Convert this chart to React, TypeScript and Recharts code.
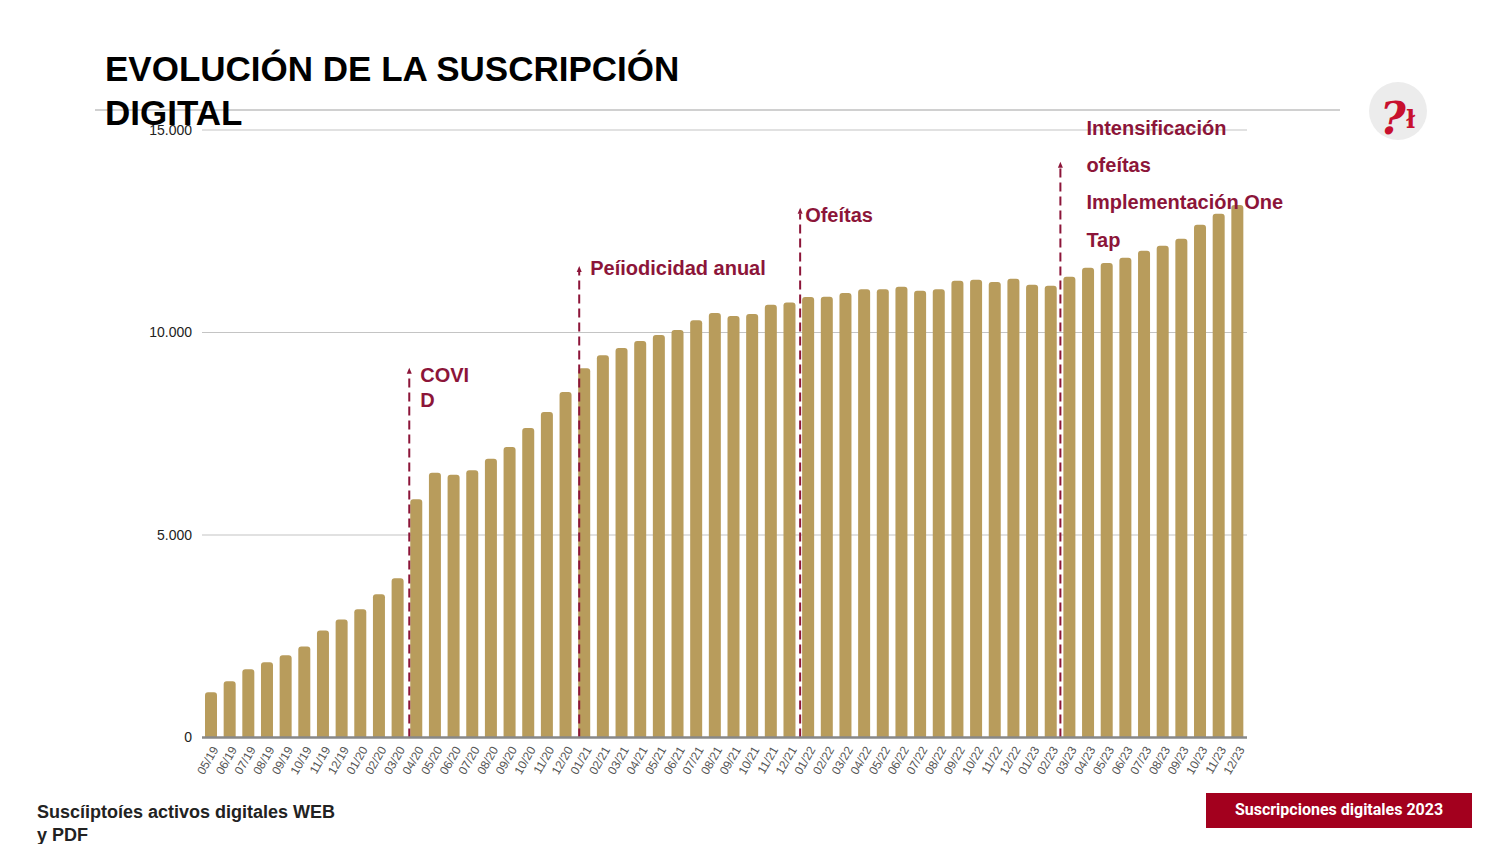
import { BarChart, Bar, XAxis, YAxis, CartesianGrid, ReferenceLine } from 'recharts';

const months = [
  '05/19', '06/19', '07/19', '08/19', '09/19', '10/19', '11/19', '12/19',
  '01/20', '02/20', '03/20', '04/20', '05/20', '06/20', '07/20', '08/20', '09/20', '10/20', '11/20', '12/20',
  '01/21', '02/21', '03/21', '04/21', '05/21', '06/21', '07/21', '08/21', '09/21', '10/21', '11/21', '12/21',
  '01/22', '02/22', '03/22', '04/22', '05/22', '06/22', '07/22', '08/22', '09/22', '10/22', '11/22', '12/22',
  '01/23', '02/23', '03/23', '04/23', '05/23', '06/23', '07/23', '08/23', '09/23', '10/23', '11/23', '12/23',
];

const subscribers = [
  1115, 1390, 1685, 1855, 2030, 2250, 2645, 2915,
  3165, 3535, 3930, 5885, 6535, 6485, 6600, 6880, 7175, 7645, 8035, 8530,
  9120, 9440, 9615, 9790, 9940, 10060, 10305, 10480, 10410, 10455, 10685, 10740,
  10875, 10880, 10975, 11070, 11070, 11130, 11030, 11070, 11275, 11300, 11250, 11325,
  11180, 11155, 11375, 11600, 11715, 11845, 12020, 12140, 12315, 12660, 12930, 13150,
];

const yTicks = [0, 5000, 10000, 15000];

const markerMonths = ['04/20', '01/21', '01/22', '03/23'];
const markerTops = [9055, 11565, 13005, 14145];
const markerLabels = [
  ['COVI', 'D'],
  ['Peíiodicidad anual'],
  ['Ofeítas'],
  ['Intensificación', 'ofeítas', 'Implementación One', 'Tap'],
];

const data = months.map((month, i) => ({ month, value: subscribers[i] }));

// label offsets relative to the arrow tip
const markerText = [
  { sx: 2, dx: 11, dy: 11, lh: 25 },
  { sx: 4, dx: 11, dy: 6, lh: 25 },
  { sx: 1, dx: 5, dy: 11, lh: 25 },
  { sx: 0, dx: 26, dy: -30, lh: 37.4 },
];

const FONT = '"Liberation Sans", Arial, sans-serif';
const RED = '#8c1539';
const GOLD = '#b89c5c';

const fmt = (v: number) => v.toLocaleString('de-DE');

const MonthTick = ({ x, y, payload }: any) => {
  const tx = x + 4;
  const ty = y + 2;
  return (
    <text
      x={tx}
      y={ty}
      transform={`rotate(-60 ${tx} ${ty})`}
      textAnchor="end"
      dominantBaseline="central"
      fontSize={12}
      fill="#555"
      fontFamily={FONT}
    >
      {payload.value}
    </text>
  );
};

function Marker({ x1, y1, y2, idx }: any) {
  const t = markerText[idx];
  const x = x1 + t.sx;
  const top = Math.min(y1, y2);
  const bottom = Math.max(y1, y2);
  return (
    <g>
      <line x1={x} y1={bottom} x2={x} y2={top + 3} stroke={RED} strokeWidth={2} strokeDasharray="9 5" />
      <polygon points={`${x},${top - 3} ${x - 2.5},${top + 3} ${x + 2.5},${top + 3}`} fill={RED} />
      {markerLabels[idx].map((line, j) => (
        <text
          key={j}
          x={x + t.dx}
          y={top + t.dy + j * t.lh}
          fontSize={20}
          fontWeight="bold"
          fill={RED}
          fontFamily={FONT}
        >
          {line}
        </text>
      ))}
    </g>
  );
}

export default function App() {
  return (
    <div
      style={{
        position: 'absolute',
        left: 0,
        top: 0,
        width: 1500,
        height: 844,
        background: '#fff',
        overflow: 'hidden',
        fontFamily: FONT,
      }}
    >
      <div style={{ position: 'absolute', left: 95, top: 109, width: 1245, height: 2, background: '#d0d0d0' }} />

      <div style={{ position: 'absolute', left: 0, top: 0 }}>
        <BarChart
          width={1500}
          height={844}
          data={data}
          margin={{ top: 130, right: 253, bottom: 46.5, left: 140 }}
        >
          <CartesianGrid horizontal vertical={false} stroke="#c4c4c4" strokeWidth={1.2} />
          <XAxis
            dataKey="month"
            interval={0}
            height={60}
            axisLine={{ stroke: '#888', strokeWidth: 2.5 }}
            tickLine={false}
            tick={<MonthTick />}
          />
          <YAxis
            width={62}
            domain={[0, 15000]}
            ticks={yTicks}
            axisLine={false}
            tickLine={false}
            tickMargin={4}
            tickFormatter={fmt}
            tick={{ fontSize: 14, fill: '#222', fontFamily: FONT }}
          />
          <Bar dataKey="value" fill={GOLD} barSize={12} radius={[3, 3, 0, 0]} isAnimationActive={false} />
          {markerMonths.map((m, i) => (
            <ReferenceLine
              key={m}
              segment={[
                { x: m, y: 0 },
                { x: m, y: markerTops[i] },
              ]}
              position="start"
              shape={(p: any) => <Marker {...p} idx={i} />}
            />
          ))}
        </BarChart>
      </div>

      <div
        style={{
          position: 'absolute',
          left: 105,
          top: 47,
          width: 620,
          fontSize: 35,
          lineHeight: '44px',
          fontWeight: 'bold',
          color: '#000',
        }}
      >
        EVOLUCIÓN DE LA SUSCRIPCIÓN DIGITAL
      </div>

      <svg style={{ position: 'absolute', left: 1360, top: 72 }} width={80} height={80}>
        <circle cx={38} cy={39} r={29} fill="#ececec" />
        <text x={20} y={62} fontSize={44} fontWeight="bold" fontStyle="italic" fill="#c8102e" fontFamily='"DejaVu Serif", serif'>
          ?
        </text>
        <text x={46} y={56} fontSize={24} fontWeight="bold" fill="#c8102e" fontFamily='"DejaVu Serif", serif'>
          ł
        </text>
      </svg>

      <div
        style={{
          position: 'absolute',
          left: 37,
          top: 801,
          width: 360,
          fontSize: 18,
          lineHeight: '23px',
          fontWeight: 'bold',
          color: '#222',
        }}
      >
        Suscíiptoíes activos digitales WEB
        <br />y PDF
      </div>

      <div
        style={{
          position: 'absolute',
          left: 1206,
          top: 793,
          width: 266,
          height: 35,
          background: '#a3001e',
          color: '#fff',
          fontFamily: 'Roboto, sans-serif',
          fontWeight: 'bold',
          fontSize: 16,
          lineHeight: '33px',
          textAlign: 'center',
        }}
      >
        Suscripciones digitales 2023
      </div>
    </div>
  );
}
